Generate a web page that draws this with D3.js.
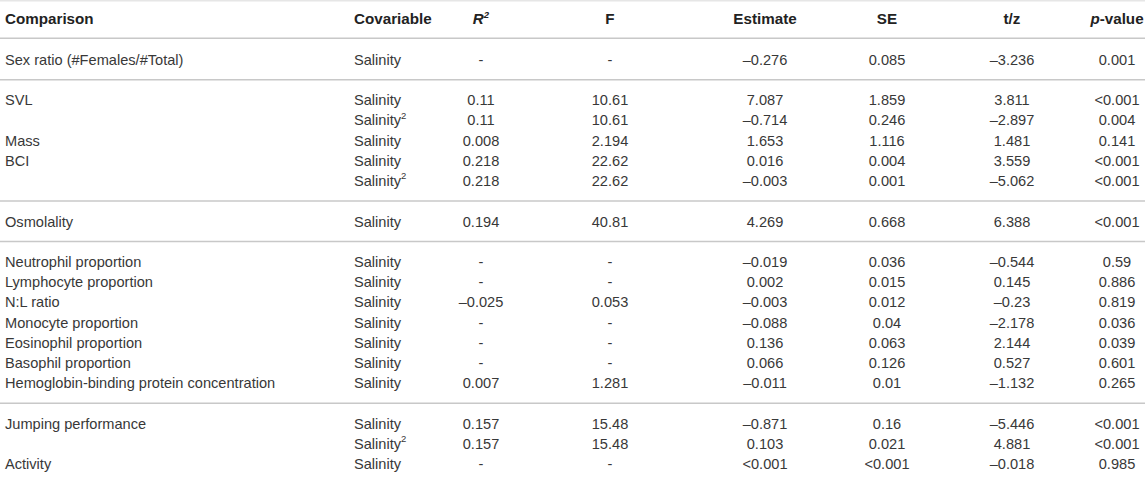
<!DOCTYPE html>
<html>
<head>
<meta charset="utf-8">
<script src="https://cdn.jsdelivr.net/npm/d3@7"></script>
<style>
  html, body { margin: 0; padding: 0; background: #fff; }
  svg { display: block; }
  text { font-family: "Liberation Sans", Arial, Helvetica, sans-serif; font-size: 14.6px; fill: #383838; }
  .hdr { font-weight: bold; fill: #222; font-size: 15.2px; }
</style>
</head>
<body>
<svg id="chart" width="1145" height="480"></svg>
<script>
// ---- data ----
const headers = ["Comparison", "Covariable", "R2", "F", "Estimate", "SE", "t/z", "p-value"];
const comparisons = ["Sex ratio (#Females/#Total)", "SVL", "", "Mass", "BCI", "", "Osmolality",
  "Neutrophil proportion", "Lymphocyte proportion", "N:L ratio", "Monocyte proportion",
  "Eosinophil proportion", "Basophil proportion", "Hemoglobin-binding protein concentration",
  "Jumping performance", "", "Activity"];
const covariables = ["Salinity", "Salinity", "Salinity2", "Salinity", "Salinity", "Salinity2", "Salinity",
  "Salinity", "Salinity", "Salinity", "Salinity", "Salinity", "Salinity", "Salinity",
  "Salinity", "Salinity2", "Salinity"];
const r2Values = ["-", "0.11", "0.11", "0.008", "0.218", "0.218", "0.194",
  "-", "-", "–0.025", "-", "-", "-", "0.007", "0.157", "0.157", "-"];
const fValues = ["-", "10.61", "10.61", "2.194", "22.62", "22.62", "40.81",
  "-", "-", "0.053", "-", "-", "-", "1.281", "15.48", "15.48", "-"];
const estimates = ["–0.276", "7.087", "–0.714", "1.653", "0.016", "–0.003", "4.269",
  "–0.019", "0.002", "–0.003", "–0.088", "0.136", "0.066", "–0.011", "–0.871", "0.103", "<0.001"];
const seValues = ["0.085", "1.859", "0.246", "1.116", "0.004", "0.001", "0.668",
  "0.036", "0.015", "0.012", "0.04", "0.063", "0.126", "0.01", "0.16", "0.021", "<0.001"];
const tzValues = ["–3.236", "3.811", "–2.897", "1.481", "3.559", "–5.062", "6.388",
  "–0.544", "0.145", "–0.23", "–2.178", "2.144", "0.527", "–1.132", "–5.446", "4.881", "–0.018"];
const pValues = ["0.001", "<0.001", "0.004", "0.141", "<0.001", "<0.001", "<0.001",
  "0.59", "0.886", "0.819", "0.036", "0.039", "0.601", "0.265", "<0.001", "<0.001", "0.985"];
// group index of each row (a separator line is drawn between groups)
const groups = [0, 1, 1, 1, 1, 1, 2, 3, 3, 3, 3, 3, 3, 3, 4, 4, 4];

// ---- layout ----
const svg = d3.select("#chart");
const W = 1145;

// row unit positions: header at 0, each group change adds one extra unit
const units = [];
let u = 0, prevG = -1;
groups.forEach((g, i) => {
  u += (g !== prevG) ? 2 : 1;
  units.push(u);
  prevG = g;
});
const maxUnit = units[units.length - 1];
const y = d3.scaleLinear().domain([0, maxUnit]).range([19, 464]);

const colX = [5, 354, 481, 610, 765, 887, 1012, 1117];
const colAnchor = ["start", "start", "middle", "middle", "middle", "middle", "middle", "middle"];

// separator lines: top, under header, between groups
const lineUnits = [-0.9, 0.95];
for (let i = 1; i < groups.length; i++) if (groups[i] !== groups[i - 1]) lineUnits.push(units[i] - 1);
svg.selectAll("line.sep").data(lineUnits).join("line")
  .attr("class", "sep")
  .attr("x1", 0).attr("x2", W)
  .attr("y1", d => y(d)).attr("y2", d => y(d))
  .attr("stroke", d => d < 0 ? "#e6e6e6" : "#c8c8c8").attr("stroke-width", 1.5);

// header
const hdr = svg.append("g");
headers.forEach((h, j) => {
  const t = hdr.append("text").attr("class", "hdr")
    .attr("x", colX[j]).attr("y", y(0)).attr("dy", "0.36em")
    .attr("text-anchor", colAnchor[j]);
  if (h === "R2") {
    t.append("tspan").attr("font-style", "italic").text("R");
    t.append("tspan").attr("font-size", "9.5px").attr("font-style", "italic").attr("dy", "-0.65em").text("2");
  } else if (h === "p-value") {
    t.append("tspan").attr("font-style", "italic").text("p");
    t.append("tspan").text("-value");
  } else {
    t.text(h);
  }
});

// body
const columns = [comparisons, covariables, r2Values, fValues, estimates, seValues, tzValues, pValues];
const body = svg.append("g");
columns.forEach((col, j) => {
  body.selectAll(null).data(col).join("text")
    .attr("x", colX[j]).attr("y", (d, i) => y(units[i])).attr("dy", "0.36em")
    .attr("text-anchor", colAnchor[j])
    .each(function (d) {
      const t = d3.select(this);
      if (d === "Salinity2") {
        t.append("tspan").text("Salinity");
        t.append("tspan").attr("font-size", "9.5px").attr("dy", "-0.7em").text("2");
      } else {
        t.text(d);
      }
    });
});
</script>
</body>
</html>
